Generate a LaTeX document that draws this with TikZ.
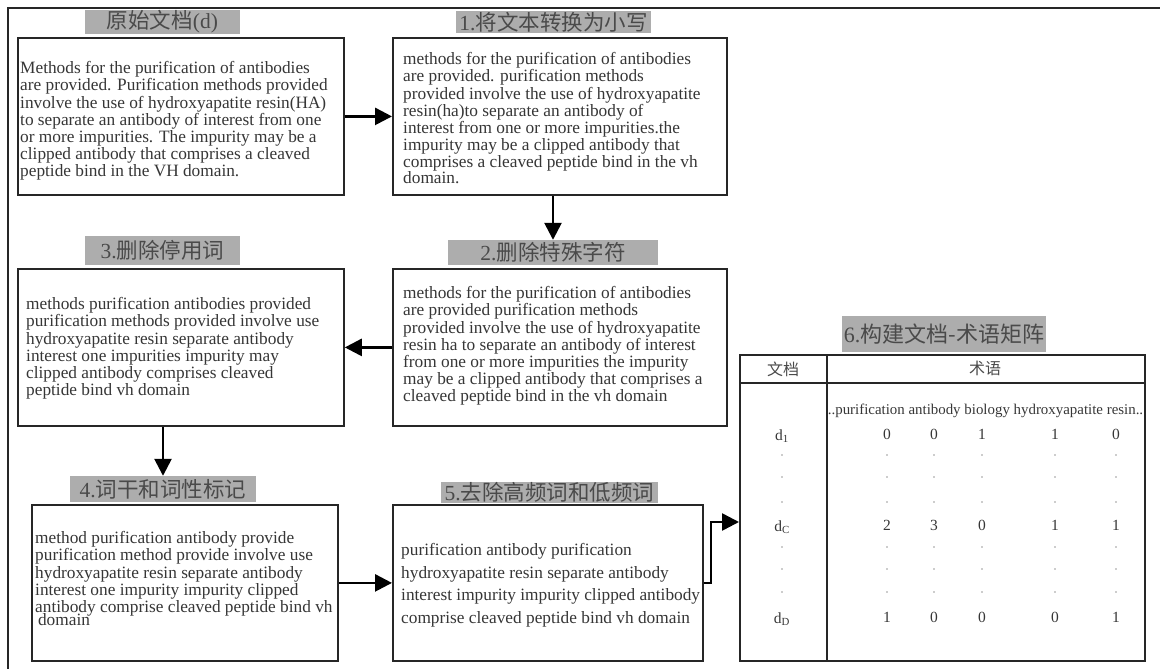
\documentclass[tikz,border=0pt]{standalone}
\usepackage{fontspec}
\setmainfont{Liberation Serif}
\newfontfamily\cjk{Noto Sans CJK SC}
\usetikzlibrary{arrows.meta}
\definecolor{txt}{HTML}{363636}
\definecolor{ttl}{HTML}{ADADAD}
\definecolor{ttltxt}{HTML}{4A4A4A}
\definecolor{dotc}{HTML}{9A9A9A}
\tikzset{
  x=1pt,y=-1pt,
  box/.style={draw=black!85,line width=1.8pt,fill=white,anchor=north west,inner sep=0pt},
  body/.style={anchor=north west,align=left,inner sep=0pt,text=txt,font=\fontsize{17.3}{17.1}\selectfont},
  ttlbox/.style={fill=ttl,inner sep=0pt,text=ttltxt,font=\fontsize{21.5}{23}\selectfont},
  arr/.style={line width=2.6pt,-{Triangle[length=17pt,width=17pt]}},
  frame/.style={line width=2.8pt,draw=black!85},
  tline/.style={line width=1.6pt,draw=black!85},
  hdr/.style={text=ttltxt,font=\fontsize{16}{18}\selectfont\cjk},
  val/.style={text=txt,font=\fontsize{15.5}{17}\selectfont,inner sep=0pt},
}
\begin{document}
\begin{tikzpicture}
\useasboundingbox (0,0) rectangle (1160,669);
% outer frame
\draw[frame] (8,669) -- (8,8) -- (1160,8);

% titles
\node[ttlbox,minimum width=155pt,minimum height=24pt] (t0) at (162.5,22) {{\cjk 原始文档}(d)};
\node[ttlbox,minimum width=195pt,minimum height=22pt] (t1) at (553.5,22) {1.{\cjk 将文本转换为小写}};
\node[ttlbox,minimum width=210pt,minimum height=25pt] (t2) at (553,252.5) {2.{\cjk 删除特殊字符}};
\node[ttlbox,minimum width=155pt,minimum height=29pt] (t3) at (162.5,250.5) {3.{\cjk 删除停用词}};
\node[ttlbox,minimum width=186pt,minimum height=26pt] (t4) at (163,489) {4.{\cjk 词干和词性标记}};
\node[ttlbox,minimum width=217pt,minimum height=21pt] (t5) at (549.5,492.5) {5.{\cjk 去除高频词和低频词}};
\node[ttlbox,minimum width=204pt,minimum height=36pt,font=\fontsize{22}{24}\selectfont] (t6) at (944,334) {6.{\cjk 构建文档-术语矩阵}};

% boxes
\node[box,minimum width=326pt,minimum height=157pt] (b0) at (17,37) {};
\node[box,minimum width=334pt,minimum height=157pt] (b1) at (392,37) {};
\node[box,minimum width=334pt,minimum height=157pt] (b2) at (392,268) {};
\node[box,minimum width=326pt,minimum height=157pt] (b3) at (17,268) {};
\node[box,minimum width=306pt,minimum height=156pt] (b4) at (31,504) {};
\node[box,minimum width=310pt,minimum height=156pt] (b5) at (392,504) {};

% texts
\node[body] (x0) at (20,61.5) {Methods for the purification of antibodies\\
are provided. Purification methods provided\\
involve the use of hydroxyapatite resin(HA)\\
to separate an antibody of interest from one\\
or more impurities. The impurity may be a\\
clipped antibody that comprises a cleaved\\
peptide bind in the VH domain.};
\node[body] (x1) at (403,52.5) {methods for the purification of antibodies\\
are provided. purification methods\\
provided involve the use of hydroxyapatite\\
resin(ha)to separate an antibody of\\
interest from one or more impurities.the\\
impurity may be a clipped antibody that\\
comprises a cleaved peptide bind in the vh\\[-1.5pt]
domain.};
\node[body] (x2) at (403,286.5) {methods for the purification of antibodies\\
are provided purification methods\\
provided involve the use of hydroxyapatite\\
resin ha to separate an antibody of interest\\
from one or more impurities the impurity\\
may be a clipped antibody that comprises a\\
cleaved peptide bind in the vh domain};
\node[body] (x3) at (26,297.5) {methods purification antibodies provided\\
purification methods provided involve use\\
hydroxyapatite resin separate antibody\\
interest one impurities impurity may\\
clipped antibody comprises cleaved\\
peptide bind vh domain};
\node[body] (x4) at (35,531.5) {method purification antibody provide\\
purification method provide involve use\\
hydroxyapatite resin separate antibody\\
interest one impurity impurity clipped\\
antibody comprise cleaved peptide bind vh\\[-4pt]
\,domain};
\node[body,font=\fontsize{17.3}{22.4}\selectfont] (x5) at (401,543.5) {purification antibody purification\\
hydroxyapatite resin separate antibody\\
interest impurity impurity clipped antibody\\
comprise cleaved peptide bind vh domain};

% table
\node[draw=black!85,line width=1.6pt,anchor=north west,minimum width=405pt,minimum height=306pt,inner sep=0pt] (tab) at (739,354) {};
\draw[tline] (827,354) -- (827,660);
\draw[line width=2.6pt,draw=black!85] (739,383) -- (1144,383);
\node[hdr] (h1) at (783,369) {文档};
\node[hdr] (h2) at (985,368) {术语};
\node[text=txt,font=\fontsize{14.9}{16}\selectfont,inner sep=0pt] (terms) at (985.5,411) {..purification antibody biology hydroxyapatite resin..};

\node[val] (r1) at (782,436) {d\textsubscript{1}};
\node[val] (r2) at (782,527) {d\textsubscript{C}};
\node[val] (r3) at (782,619) {d\textsubscript{D}};
\foreach \v [count=\i] in {0,0,1,1,0} {
  \pgfmathsetmacro{\cx}{{887,934,982,1055,1116}[\i-1]}
  \node[val] (va-\i) at (\cx,434) {\v};
}
\foreach \v [count=\i] in {2,3,0,1,1} {
  \pgfmathsetmacro{\cx}{{887,934,982,1055,1116}[\i-1]}
  \node[val] (vb-\i) at (\cx,525) {\v};
}
\foreach \v [count=\i] in {1,0,0,0,1} {
  \pgfmathsetmacro{\cx}{{887,934,982,1055,1116}[\i-1]}
  \node[val] (vc-\i) at (\cx,617) {\v};
}
\foreach \cx in {782,887,934,982,1055,1116} {
  \foreach \cy in {455,477,502,547,569,592} {
    \fill[dotc] (\cx,\cy) circle (0.9pt);
  }
}

% arrows
\coordinate (c6) at (739,522);
\draw[arr] (b0.east) -- (b1.west);
\draw[arr] (t2.north |- b1.south) -- (t2.north);
\draw[arr] (b2.west) -- (b3.east);
\draw[arr] (t4.north |- b3.south) -- (t4.north);
\draw[arr] (b4.east) -- (b5.west);
\draw[arr] (b5.east) -- ++(7,0) |- (c6);
\end{tikzpicture}
\end{document}
